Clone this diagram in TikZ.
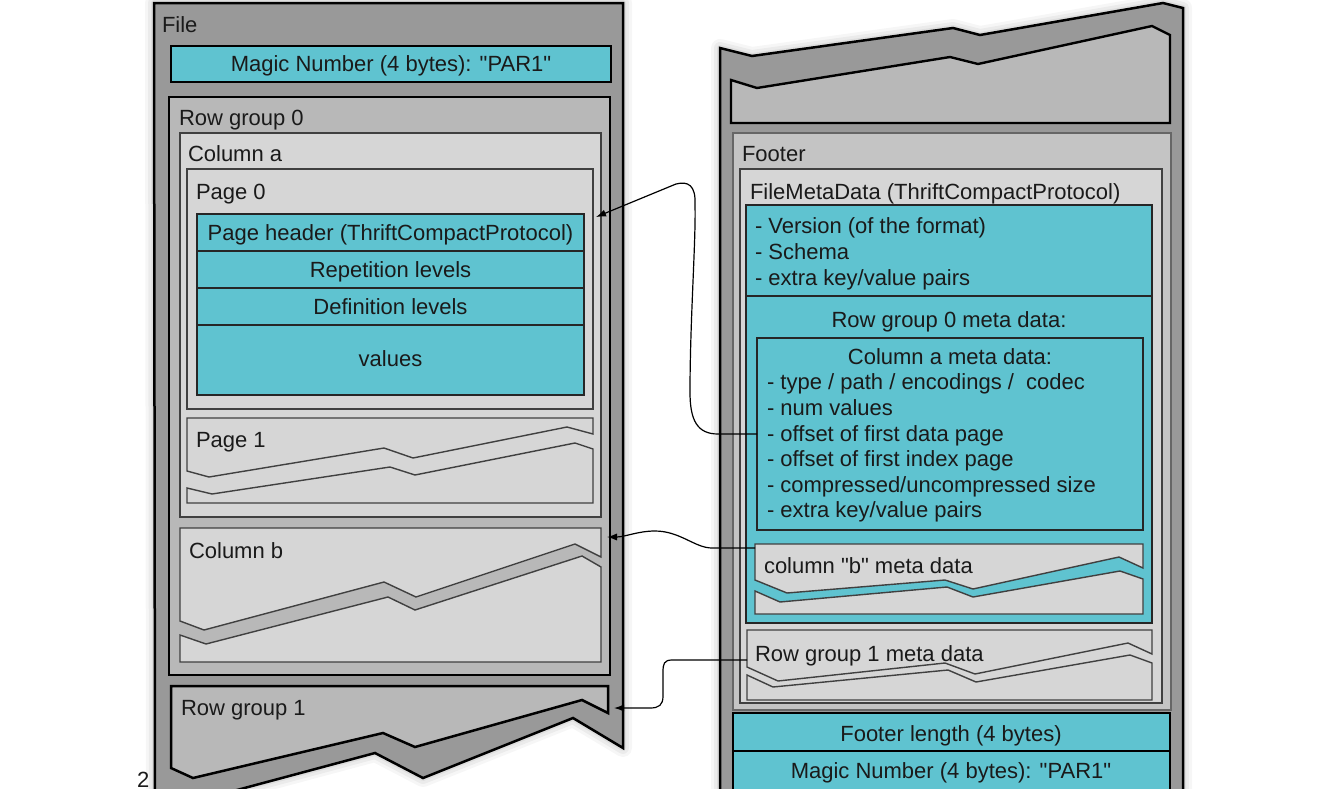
\documentclass[tikz,border=0pt]{standalone}
\usepackage{fontspec}
\setmainfont{Liberation Sans}[Ligatures=TeXOff]
\usetikzlibrary{arrows.meta}
\definecolor{cy}{RGB}{95,195,208}
\definecolor{gA}{RGB}{153,153,153}
\definecolor{gB}{RGB}{184,184,184}
\definecolor{gC}{RGB}{214,214,214}
\definecolor{gF}{RGB}{196,196,196}
\definecolor{ink}{RGB}{26,26,26}
\begin{document}
\begin{tikzpicture}[x=0.5pt,y=-0.5pt,
  every node/.style={font=\fontsize{11}{13}\selectfont, text=ink, inner sep=0pt, outer sep=0pt},
  lbl/.style={anchor=base west},
  ctr/.style={anchor=base},
  fileshape/.style={fill=gA, draw=black, line width=1.25pt},
  rgshape/.style={fill=gB, draw=black, line width=1.4pt},
  colshape/.style={fill=gC, draw=black!75, line width=0.7pt},
  cyshape/.style={fill=cy, draw=black!85, line width=0.75pt},
  footshape/.style={fill=gF, draw=black!60, line width=0.6pt},
  glowline/.style={draw=black, line join=round, fill=none},
  conn/.style={draw=black, line width=0.6pt, -{Latex[length=5pt,width=3.6pt]}},
  lout/.style={insert path={(154,3) -- (623,3) -- (623,748) -- (573,718) -- (423,778) -- (375,753) -- (155,812) -- cycle}},
  rout/.style={insert path={(720,48) -- (752,56) -- (953,28) -- (980,35) -- (1163,3) -- (1183,8) -- (1183,830) -- (720,830) -- cycle}}]
\useasboundingbox (0,0) rectangle (1339,809);
\begin{scope}
\clip (0,0) rectangle (1339,788);
% ---------------- shadows
\foreach \w/\o in {9pt/0.035,6pt/0.045,3pt/0.055}{
  \draw[glowline, line width=\w, opacity=\o, lout];
  \draw[glowline, line width=\w, opacity=\o, rout];
}
% ---------------- left file
\draw[fileshape, lout];
\node[lbl] (filelbl) at (162,32) {File};
\draw[cyshape, draw=black, line width=1pt] (171,46) rectangle (611,82);
\node[ctr] (magic1) at (391,71) {Magic Number (4 bytes): "PAR1"};
\draw[rgshape] (169,97) rectangle (610,675);
\node[lbl] (rg0lbl) at (179,125) {Row group 0};
\draw[colshape] (180,133) rectangle (601,517);
\node[lbl] (colalbl) at (188,161) {Column a};
\node[colshape, anchor=north west, minimum width=203pt, minimum height=120pt] (page0) at (187,169) {};
\node[lbl] (p0lbl) at (196,199) {Page 0};
\draw[cyshape] (197,214) rectangle (584,251);
\draw[cyshape] (197,251) rectangle (584,288);
\draw[cyshape] (197,288) rectangle (584,325);
\draw[cyshape] (197,325) rectangle (584,395);
\node[ctr] (phdr) at (390.5,240) {Page header (ThriftCompactProtocol)};
\node[ctr] (rep) at (390.5,277) {Repetition levels};
\node[ctr] (def) at (390.5,314) {Definition levels};
\node[ctr] (vals) at (390.5,366) {values};
% page 1
\draw[colshape] (187,418) -- (593,418) -- (593,434) -- (567,427) -- (413,458) -- (384,448) -- (209,477) -- (187,471) -- cycle;
\draw[colshape] (187,488) -- (212,494) -- (390,467) -- (415,475) -- (575,443) -- (593,449) -- (593,503) -- (187,503) -- cycle;
\node[lbl] (p1lbl) at (196,447) {Page 1};
% column b
\draw[colshape] (180,528) -- (601,528) -- (601,557) -- (575,544) -- (416,597) -- (384,582) -- (204,630) -- (180,621) -- cycle;
\draw[colshape] (180,635) -- (206,644) -- (388,597) -- (415,610) -- (582,556) -- (601,567) -- (601,662) -- (180,662) -- cycle;
\node[lbl] (colblbl) at (189,558) {Column b};
% row group 1
\draw[rgshape, line width=1.25pt] (171,686) -- (608,686) -- (608,713) -- (582,700) -- (415,747) -- (383,733) -- (193,778) -- (171,768) -- cycle;
\node[lbl] (rg1lbl) at (181,715) {Row group 1};
\node[lbl] (pnum) at (137,787) {2};
% ---------------- right file
\draw[fileshape, rout];
\draw[rgshape, line width=1.2pt] (731,80) -- (757,88) -- (950,57) -- (978,64) -- (1152,26) -- (1170,35) -- (1170,123) -- (731,123) -- cycle;
\draw[footshape] (733,133) rectangle (1171,710);
\node[lbl] (footlbl) at (742,161) {Footer};
\draw[colshape] (740,169) rectangle (1162,703);
\node[lbl] (fmdlbl) at (750,199) {FileMetaData (ThriftCompactProtocol)};
\draw[cyshape] (746,205) rectangle (1152,296);
\node[lbl] (v1) at (755,233) {- Version (of the format)};
\node[lbl] (v2) at (755,259) {- Schema};
\node[lbl] (v3) at (755,285) {- extra key/value pairs};
\draw[cyshape] (746,296) rectangle (1152,623);
\node[ctr] (rg0m) at (949,327) {Row group 0 meta data:};
\node[cyshape, anchor=north west, minimum width=193pt, minimum height=96pt] (colameta) at (757,338) {};
\node[ctr] (camt) at (950,364) {Column a meta data:};
\node[lbl] (ca1) at (767,389) {- type / path / encodings /\ \ codec};
\node[lbl] (ca2) at (767,415) {- num values};
\node[lbl] (ca3) at (767,441) {- offset of first data page};
\node[lbl] (ca4) at (767,466) {- offset of first index page};
\node[lbl] (ca5) at (767,492) {- compressed/uncompressed size};
\node[lbl] (ca6) at (767,517) {- extra key/value pairs};
% column b meta data
\draw[colshape] (755,544) -- (1143,544) -- (1143,568) -- (1119,557) -- (973,589) -- (945,580) -- (787,593) -- (755,580) -- cycle;
\draw[colshape] (755,591) -- (780,602) -- (947,587) -- (973,597) -- (1120,571) -- (1143,579) -- (1143,614) -- (755,614) -- cycle;
\node[lbl] (cbm) at (764,573) {column "b" meta data};
% row group 1 meta data
\draw[colshape] (747,630) -- (1152,630) -- (1152,654) -- (1128,643) -- (975,674) -- (945,663) -- (778,681) -- (747,667) -- cycle;
\draw[colshape] (747,675) -- (773,687) -- (948,670) -- (976,682) -- (1130,655) -- (1152,663) -- (1152,700) -- (747,700) -- cycle;
\node[lbl] (rg1m) at (755,661) {Row group 1 meta data};
% footer length + magic
\draw[cyshape, draw=black, line width=1.1pt] (733,713) rectangle (1170,751);
\node[ctr] (flen) at (951,741) {Footer length (4 bytes)};
\draw[cyshape, draw=black, line width=1.1pt] (733,751) rectangle (1170,830);
\node[ctr] (magic2) at (951,778) {Magic Number (4 bytes): "PAR1"};
% ---------------- connectors
\coordinate (t1) at (596,217);
\coordinate (s2) at (755,548);
\coordinate (t2) at (607,537);
\coordinate (s3) at (747,660);
\coordinate (t3) at (614,708);
\draw[conn] (colameta.west) -- (718,434) .. controls (697,434) and (690,420) .. (690,392) .. controls (690,320) and (696,240) .. (695,205) .. controls (696,185) and (688,181) .. (676,184) -- (t1);
\draw[conn] (s2) -- (712,548) .. controls (695,548) and (680,531) .. (655,531) .. controls (638,531) and (625,537) .. (t2);
\draw[conn] (s3) -- (672,660) .. controls (664,660) and (663,664) .. (663,672) -- (663,696) .. controls (663,705) and (659,708) .. (650,708) -- (t3);
\end{scope}
\end{tikzpicture}
\end{document}
